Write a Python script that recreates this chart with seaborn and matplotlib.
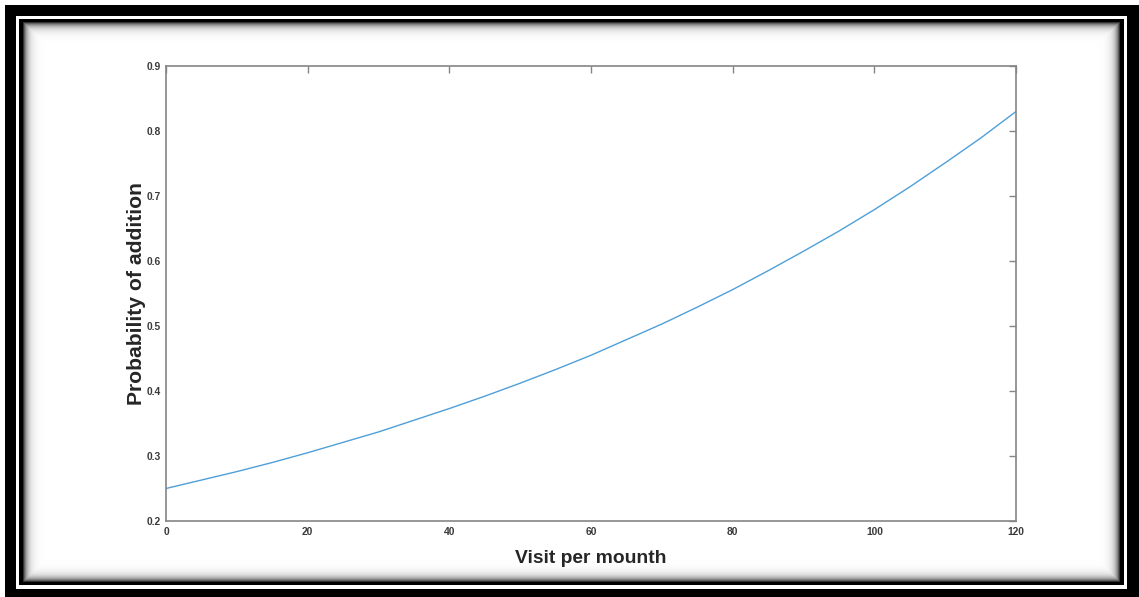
import numpy as np
import pandas as pd
import matplotlib
matplotlib.use("Agg")
import matplotlib.pyplot as plt
import seaborn as sns

# Visits per month and the estimated probability of addition
visits = [0, 5, 10, 15, 20, 25, 30, 35, 40, 45, 50, 55, 60,
          65, 70, 75, 80, 85, 90, 95, 100, 105, 110, 115, 120]
probability = [0.250, 0.263, 0.276, 0.290, 0.305, 0.321, 0.337, 0.355, 0.373,
               0.392, 0.412, 0.433, 0.455, 0.479, 0.503, 0.529, 0.556, 0.585,
               0.615, 0.646, 0.679, 0.714, 0.751, 0.789, 0.830]
x_ticks = [0, 20, 40, 60, 80, 100, 120]
y_ticks = [0.2, 0.3, 0.4, 0.5, 0.6, 0.7, 0.8, 0.9]

df = pd.DataFrame({"visits": visits, "probability": probability})

sns.set_theme(style="white")
plt.rcParams["font.family"] = ["Liberation Sans", "DejaVu Sans"]

W, H, DPI = 1139, 597, 100
fig = plt.figure(figsize=(W / DPI, H / DPI), dpi=DPI)
fig.patch.set_facecolor("white")
ax = fig.add_axes([166 / W, 1 - 521 / H, (1016 - 166) / W, (521 - 66) / H])

sns.lineplot(data=df, x="visits", y="probability", ax=ax,
             color="#4f9fd9", linewidth=1.0)

ax.set_xlim(0, 120)
ax.set_ylim(0.2, 0.9)
ax.set_xticks(x_ticks)
ax.set_yticks(y_ticks)
ax.set_xticklabels([str(t) for t in x_ticks])
ax.set_yticklabels([f"{t:.1f}" for t in y_ticks])

spine_col = "#858585"
for s in ax.spines.values():
    s.set_visible(True)
    s.set_color(spine_col)
    s.set_linewidth(1.2)
ax.tick_params(direction="in", length=5, width=1.0, color=spine_col,
               top=True, right=True, labelsize=7.4, labelcolor="#3a3a3a",
               pad=4)
for lab in ax.get_xticklabels() + ax.get_yticklabels():
    lab.set_fontweight("bold")

ax.set_xlabel("Visit per mounth", fontsize=13.9, fontweight="bold",
              color="#262626", labelpad=10)
ax.set_ylabel("Probability of addition", fontsize=15.2, fontweight="bold",
              color="#262626", labelpad=0)
ax.grid(False)

# Picture frame: thick black border, white gap, thin black rule, inner shadow
yy, xx = np.mgrid[0:H, 0:W]
frame = np.zeros((H, W, 4))

def box(x0, y0, x1, y1):
    return (xx >= x0) & (xx < x1) & (yy >= y0) & (yy < y1)

outer = box(5, 5, W, H) & ~box(16, 16, 1127, 589)
gap = box(16, 16, 1127, 589) & ~box(19, 19, 1124, 585)
inner = box(19, 19, 1124, 585) & ~box(23, 22, 1120, 582)
inside = box(23, 22, 1120, 582)

frame[outer] = [0, 0, 0, 1]
frame[gap] = [1, 1, 1, 1]
frame[inner] = [0, 0, 0, 1]
d = np.minimum.reduce([xx - 23, 1119 - xx, yy - 22, 581 - yy]).astype(float)
shade = np.where(inside, 0.8 * np.exp(-np.clip(d, 0, None) / 4.0), 0.0)
frame[..., 3] = np.where(inside, shade, frame[..., 3])
fig.figimage(frame, xo=0, yo=0, origin="upper", zorder=10, resize=False)

fig.savefig("out.png", dpi=DPI, facecolor="white")
